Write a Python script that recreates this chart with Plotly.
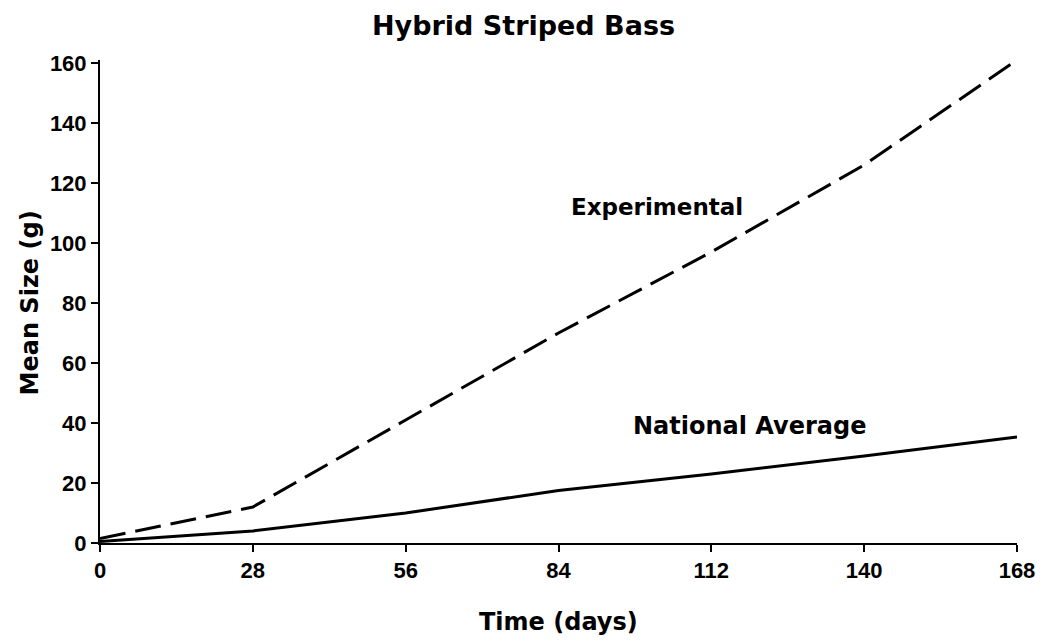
import plotly.graph_objects as go

# Growth of hybrid striped bass over a 168-day trial
days = [0, 28, 56, 84, 112, 140, 168]
experimental = [1.5, 12, 41, 70, 97, 126, 161]
national_average = [0.5, 4, 10, 17.5, 23, 29, 35.3]

x_ticks = [0, 28, 56, 84, 112, 140, 168]
y_ticks = [0, 20, 40, 60, 80, 100, 120, 140, 160]

TICK_FONT = "Liberation Sans"
TEXT_FONT = "DejaVu Sans"

fig = go.Figure()
fig.add_trace(go.Scatter(
    x=days, y=experimental, mode="lines", name="Experimental",
    line=dict(color="black", width=3, dash="26px,10px"),
))
fig.add_trace(go.Scatter(
    x=days, y=national_average, mode="lines", name="National Average",
    line=dict(color="black", width=3),
))

axis_common = dict(
    showgrid=False, zeroline=False, showline=True, linecolor="black",
    linewidth=2, ticks="outside", ticklen=7, tickwidth=1.5,
    tickcolor="black",
    tickfont=dict(family=TICK_FONT, size=22, color="black", weight="bold"),
)

fig.update_layout(
    width=1047, height=643,
    margin=dict(l=100, r=26, t=60, b=100),
    paper_bgcolor="white", plot_bgcolor="white",
    showlegend=False,
    title=dict(
        text="Hybrid Striped Bass", x=0.5, xanchor="center",
        y=1 - 26 / 643, yanchor="middle", yref="container",
        font=dict(family=TEXT_FONT, size=27, color="black", weight="bold"),
    ),
    xaxis=dict(range=[0, 168], tickvals=x_ticks, **axis_common),
    yaxis=dict(range=[0, 161], tickvals=y_ticks, **axis_common),
)

label_font = dict(family=TEXT_FONT, size=24, color="black", weight="bold")
fig.add_annotation(x=102, y=112, xref="x", yref="y", text="Experimental",
                   showarrow=False,
                   font=dict(family=TEXT_FONT, size=23, color="black", weight="bold"))
fig.add_annotation(x=119, y=39, xref="x", yref="y", text="National Average",
                   showarrow=False, font=label_font)
fig.add_annotation(x=0.5, y=0, xref="paper", yref="paper", yshift=-79,
                   text="Time (days)", showarrow=False, yanchor="middle",
                   font=label_font)
fig.add_annotation(x=0, y=0.496, xref="paper", yref="paper", xshift=-70,
                   text="Mean Size (g)", showarrow=False, textangle=-90,
                   xanchor="center", font=label_font)

fig.write_html("out.html")
